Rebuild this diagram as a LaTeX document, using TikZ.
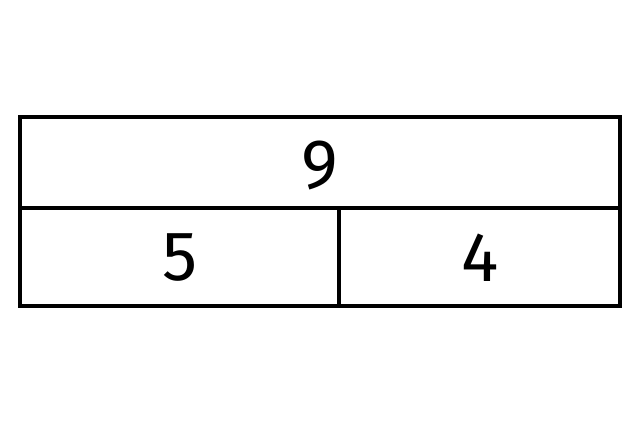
\documentclass[tikz,border=0pt]{standalone}
\usepackage{fontspec}
\setmainfont{Fira Sans}
\begin{document}
\begin{tikzpicture}[x=1pt, y=-1pt, line width=4.5pt]
	\useasboundingbox (0, 0) rectangle (640, 443);
	\foreach \xa/\ya/\xb/\yb in {20/117/620/208, 20/208/339/306, 339/208/620/306}
	\draw (\xa, \ya) rectangle (\xb, \yb);
	\node[font=\fontsize{70}{70}\selectfont] (whole) at (320, 166) {9};
	\node[font=\fontsize{70}{70}\selectfont] (partA) at (180, 258) {5};
	\node[font=\fontsize{70}{70}\selectfont] (partB) at (480, 258) {4};
\end{tikzpicture}
\end{document}
